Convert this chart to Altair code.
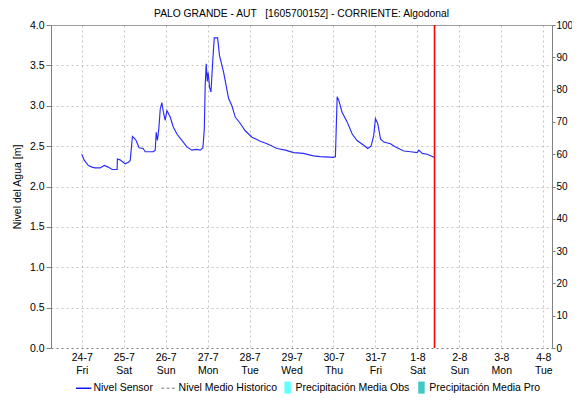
import json
import altair as alt
import pandas as pd

# ---------------- data ----------------
# hours since 24-7 00:00
hours = [0, 1.3, 3.8, 5.9, 7.6, 10.5, 12.9, 15.1, 17.4, 20.2, 20.4, 21.9, 23.7, 24.8, 26.7, 27.7,
         29.0, 30.0, 31.1, 32.8, 35.1, 36.3, 41.0, 42.0, 42.6, 43.3, 44.1, 44.9, 45.8, 46.7, 47.7,
         48.7, 50.6, 52.3, 54.4, 57.3, 60.1, 63.0, 65.5, 67.8, 69.3, 70.1, 70.6, 71.2, 71.8, 72.3,
         73.1, 73.9, 75.0, 75.8, 77.7, 78.8, 81.1, 84.0, 85.9, 87.8, 90.7, 93.5, 97.4, 102.1, 106.0,
         111.7, 116.5, 121.2, 126.8, 132.5, 136.5, 144.0, 145.1, 146.1, 147.0, 148.9, 151.8, 154.7,
         157.5, 161.3, 163.6, 165.5, 167.0, 168.0, 169.3, 170.9, 172.8, 176.6, 179.5, 184.2, 188.1,
         191.9, 192.8, 194.8, 197.6, 201.8]
level = [2.40, 2.33, 2.26, 2.24, 2.23, 2.23, 2.26, 2.24, 2.21, 2.21, 2.34, 2.33, 2.30, 2.28, 2.30,
         2.32, 2.62, 2.60, 2.57, 2.48, 2.47, 2.43, 2.43, 2.45, 2.67, 2.57, 2.72, 2.96, 3.04, 2.92,
         2.82, 2.94, 2.86, 2.74, 2.65, 2.57, 2.49, 2.45, 2.46, 2.45, 2.48, 2.71, 3.25, 3.52, 3.30,
         3.41, 3.23, 3.17, 3.58, 3.84, 3.84, 3.62, 3.42, 3.09, 3.00, 2.86, 2.78, 2.69, 2.61, 2.56,
         2.53, 2.47, 2.45, 2.42, 2.41, 2.38, 2.37, 2.36, 2.37, 3.11, 3.07, 2.92, 2.80, 2.65, 2.57,
         2.51, 2.47, 2.50, 2.63, 2.84, 2.78, 2.59, 2.55, 2.53, 2.49, 2.44, 2.43, 2.42, 2.45, 2.41,
         2.40, 2.36]

now_hour = [201.8]

day_labels = ["24-7", "25-7", "26-7", "27-7", "28-7", "29-7", "30-7", "31-7", "1-8", "2-8", "3-8", "4-8"]
weekday_labels = ["Fri", "Sat", "Sun", "Mon", "Tue", "Wed", "Thu", "Fri", "Sat", "Sun", "Mon", "Tue"]
tick_hours = [24 * i for i in range(len(day_labels))]

x_domain = [-17.6, 269.0]
left_ticks = [0, 0.5, 1.0, 1.5, 2.0, 2.5, 3.0, 3.5, 4.0]
right_ticks = [0, 10, 20, 30, 40, 50, 60, 70, 80, 90, 100]

line_series = ["Nivel Sensor", "Nivel Medio Historico"]
line_colors = ["#0000FF", "#A8A8A8"]
line_shapes = [
    "M-1,-0.09H1V0.09H-1Z",
    "M-1,-0.09H-0.608V0.09H-1Z M-0.308,-0.09H0.084V0.09H-0.308Z M0.384,-0.09H0.776V0.09H0.384Z",
]
bar_series = ["Precipitación Media Obs", "Precipitación Media Pro"]
bar_colors = ["#66FFFF", "#40C8C8"]
bar_symbol = "M-1,-1.85H1V1.85H-1Z"

precip_hours = [-1000]
precip_values = [0]

title_text = "PALO GRANDE - AUT \u00a0\u00a0[1605700152] - CORRIENTE: Algodonal"

# ---------------- chart ----------------
FONT = "Liberation Sans"
GRID = "#C4C4C4"
AXIS = "#808080"

level_df = pd.DataFrame({"h": hours, "nivel": level})
now_df = pd.DataFrame({"h": now_hour})
leg_a_df = pd.DataFrame({"serie_a": line_series, "h": [-1000] * 2, "nivel": [2.0] * 2})
leg_b_df = pd.DataFrame({"serie_b": bar_series, "h": [-1000] * 2, "nivel": [2.0] * 2})
precip_df = pd.DataFrame({"h": precip_hours, "p": precip_values})

day_js = json.dumps(day_labels)
wd_js = json.dumps(weekday_labels)
label_expr = f"[{day_js}[round(datum.value/24)], {wd_js}[round(datum.value/24)]]"

x_scale = alt.Scale(domain=x_domain, nice=False, zero=False)
x_axis = alt.Axis(
    values=tick_hours, labelExpr=label_expr, title=None, ticks=False, domain=False,
    labelPadding=4, labelLineHeight=13, labelFontSize=10.5, labelColor="black",
    grid=True, gridColor=GRID, gridDash=[2, 3], labelFlush=False, labelOverlap=False,
)
y_scale = alt.Scale(domain=[0, 4], nice=False, zero=True)
y_axis = alt.Axis(
    values=left_ticks, format=".1f", title="Nivel del Agua [m]",
    titleFontSize=10.5, titleFontWeight="normal", titleColor="black", titlePadding=7,
    labelFontSize=10.5, labelColor="black", labelPadding=2, tickSize=5, tickColor=AXIS,
    domainColor=AXIS, grid=True,
    gridColor=alt.condition("datum.value === 0 || datum.value === 4", alt.value("#7A7A7A"), alt.value(GRID)),
    gridDash=alt.condition("datum.value === 4", alt.value([1, 0]), alt.value([2, 3])),
)

line = alt.Chart(level_df).mark_line(color="#2A2AFF", strokeWidth=1.15, clip=True).encode(
    x=alt.X("h:Q", scale=x_scale, axis=x_axis),
    y=alt.Y("nivel:Q", scale=y_scale, axis=y_axis),
)

now_rule = alt.Chart(now_df).mark_rule(color="#FF0000", strokeWidth=1.6).encode(
    x=alt.X("h:Q", scale=x_scale),
)

legend_a = alt.Legend(title=None, orient="none", direction="horizontal", columns=2,
                      legendX=24.7, legendY=355, symbolSize=234, symbolStrokeWidth=0,
                      labelFontSize=10.5, labelFont=FONT, labelColor="black",
                      labelOffset=1.7, columnPadding=7.2, padding=0)
leg_a = alt.Chart(leg_a_df).mark_point(filled=True, opacity=1, clip=True, strokeWidth=0).encode(
    x=alt.X("h:Q", scale=x_scale),
    y=alt.Y("nivel:Q", scale=y_scale),
    fill=alt.Fill("serie_a:N", scale=alt.Scale(domain=line_series, range=line_colors), legend=legend_a),
    shape=alt.Shape("serie_a:N", scale=alt.Scale(domain=line_series, range=line_shapes), legend=legend_a),
)

legend_b = alt.Legend(title=None, orient="none", direction="horizontal", columns=2,
                      legendX=231.4, legendY=357, symbolSize=42.25, symbolType=bar_symbol,
                      symbolStrokeWidth=0, labelFontSize=10.5, labelFont=FONT, labelColor="black",
                      labelOffset=2.6, columnPadding=6.8, padding=0)
leg_b = alt.Chart(leg_b_df).mark_point(filled=True, opacity=1, clip=True, strokeWidth=0).encode(
    x=alt.X("h:Q", scale=x_scale),
    y=alt.Y("nivel:Q", scale=y_scale),
    color=alt.Color("serie_b:N", scale=alt.Scale(domain=bar_series, range=bar_colors), legend=legend_b),
)

precip = alt.Chart(precip_df).mark_point(clip=True, opacity=0).encode(
    x=alt.X("h:Q", scale=x_scale),
    y=alt.Y("p:Q", scale=alt.Scale(domain=[0, 100], nice=False),
            axis=alt.Axis(orient="right", values=right_ticks, format="d", title=None, grid=False,
                          labelFontSize=10, labelColor="black", labelPadding=1, tickSize=3,
                          tickColor=AXIS, domainColor=AXIS)),
)

inner = alt.layer(line, now_rule, leg_a, leg_b)
chart = alt.layer(inner, precip).resolve_scale(y="independent").properties(
    width=501, height=323,
    title=alt.TitleParams(title_text, fontSize=10.3, fontWeight="normal", font=FONT, color="black",
                          anchor="middle", offset=1),
    autosize=alt.AutoSizeParams(type="none"),
    padding={"left": 43, "top": 17, "right": 20, "bottom": 46},
).configure(font=FONT).configure_view(stroke=None).configure_axis(labelFont=FONT, titleFont=FONT)

chart.save("out.html", embed_options={"renderer": "svg", "actions": False})
